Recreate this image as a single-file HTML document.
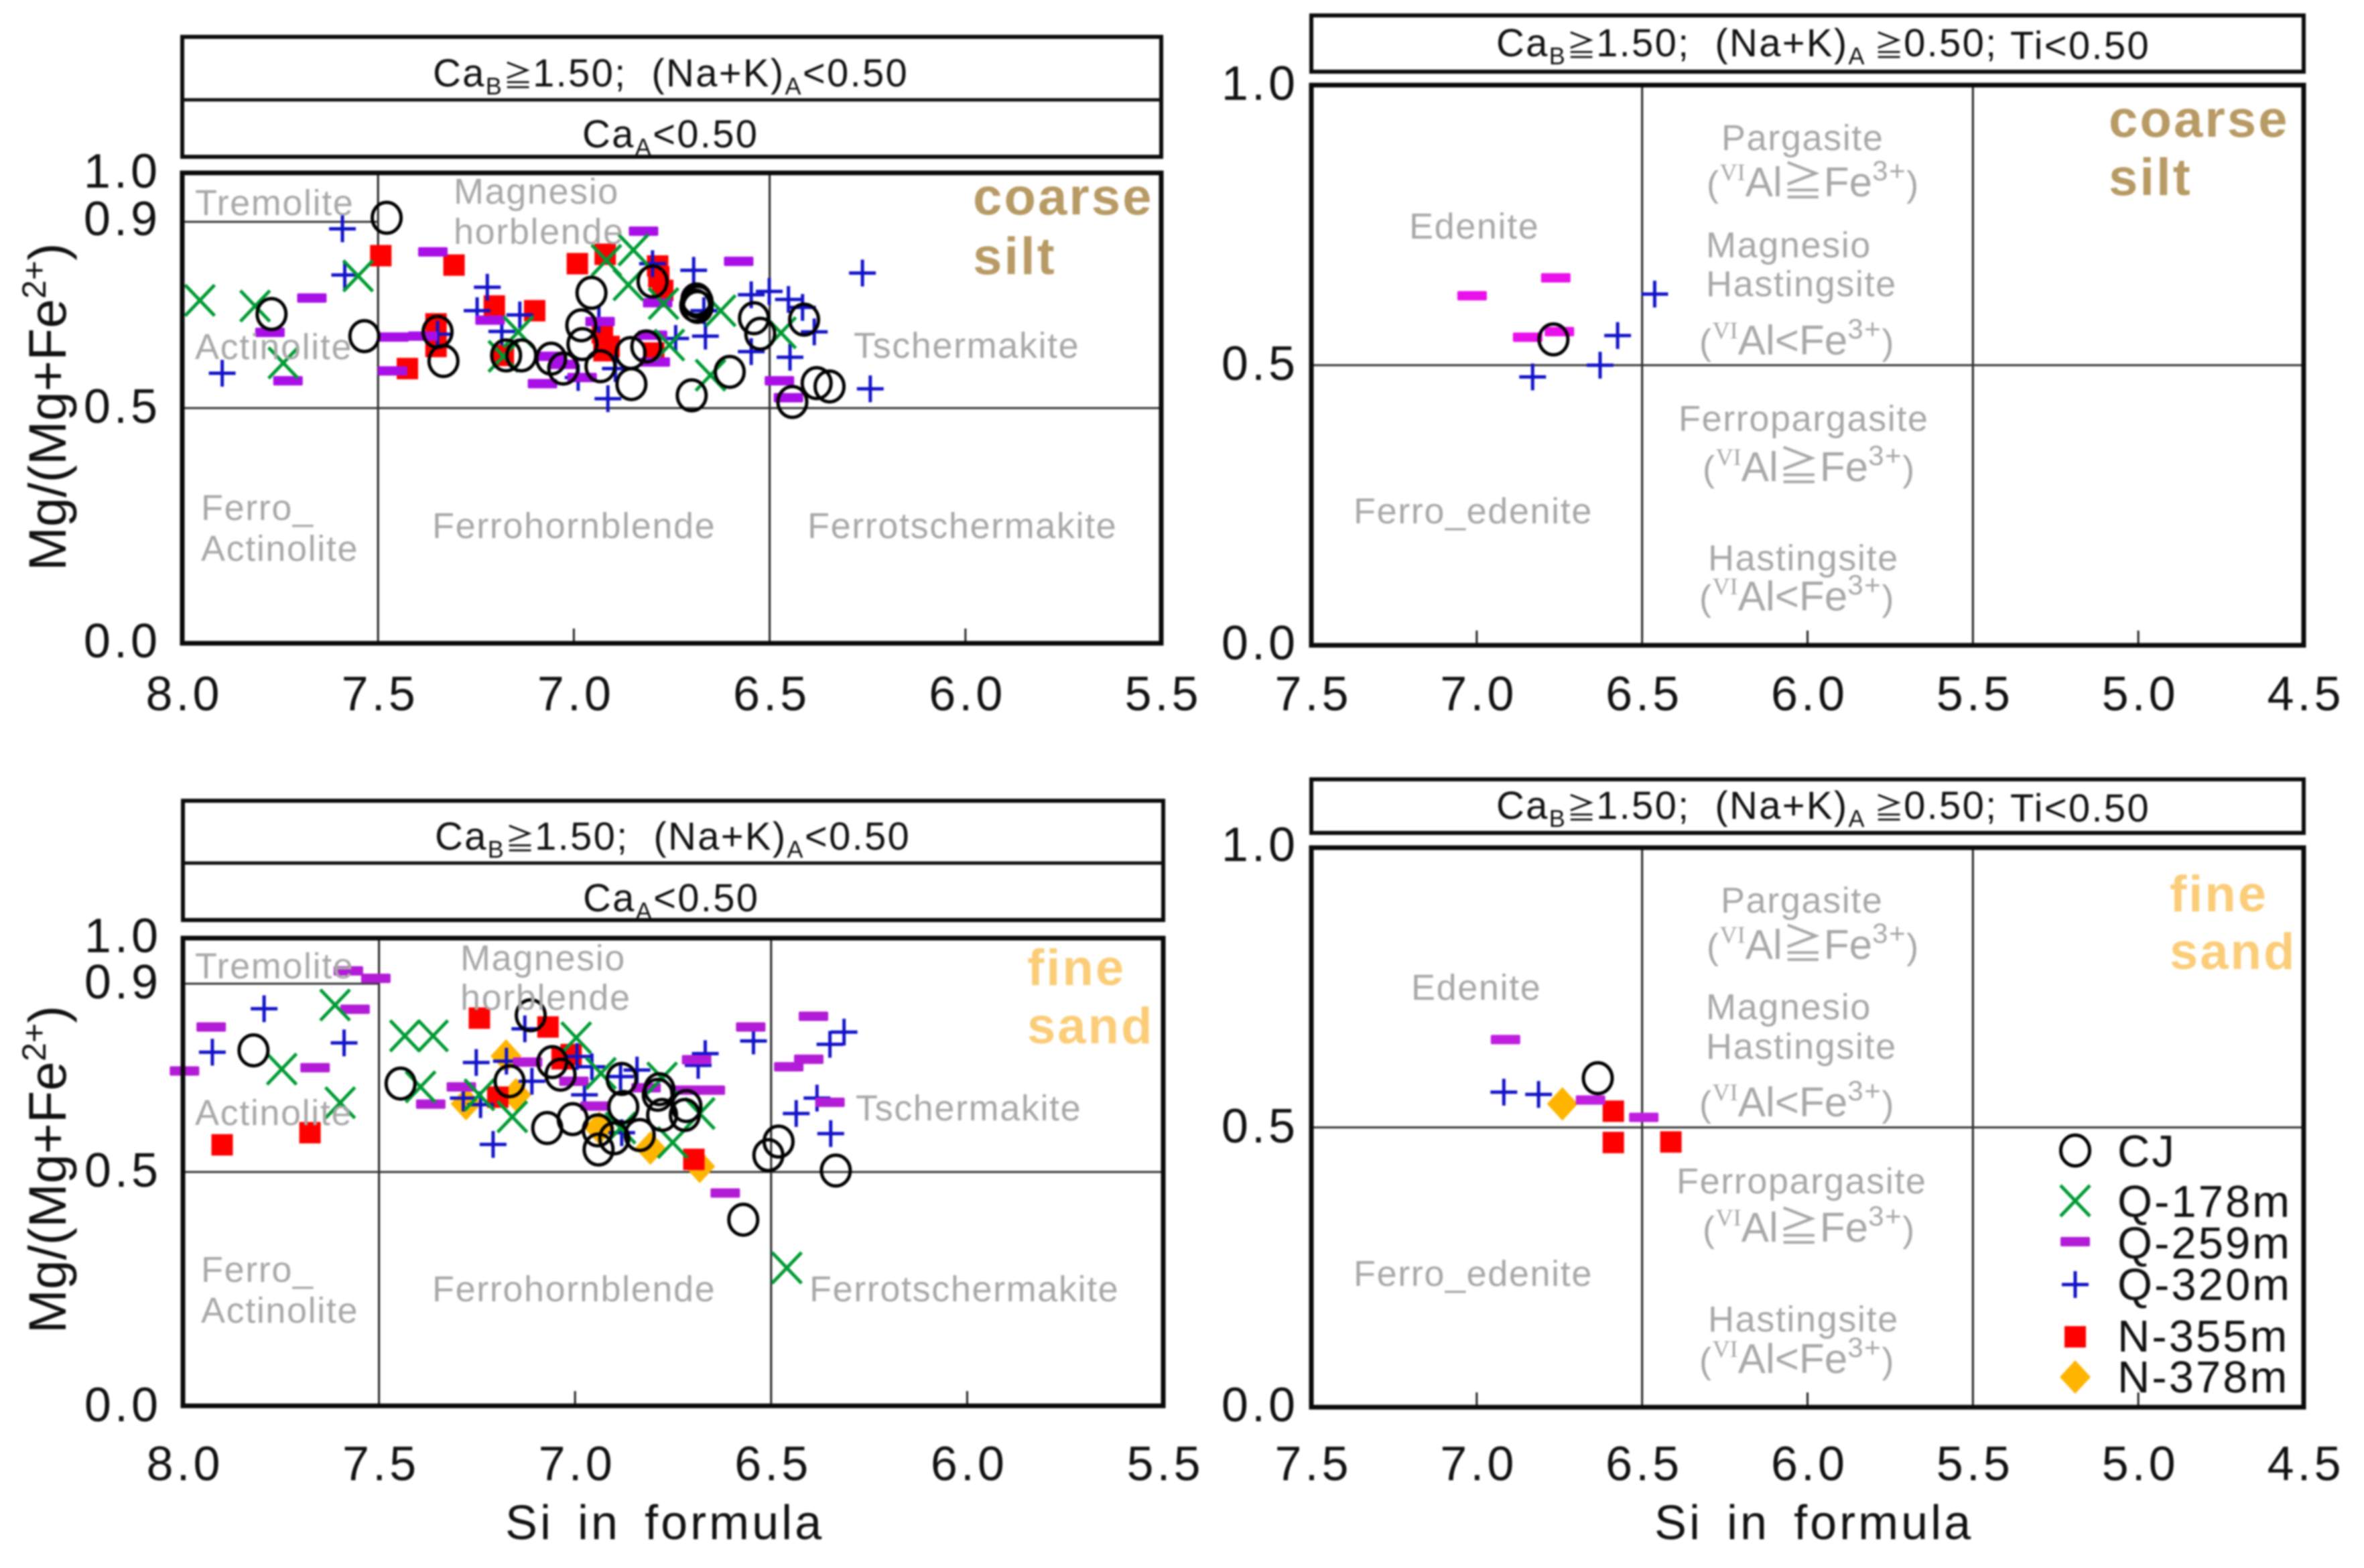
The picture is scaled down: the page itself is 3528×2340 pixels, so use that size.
<!DOCTYPE html>
<html>
<head>
<meta charset="utf-8">
<title>Amphibole classification diagrams</title>
<style>
html,body{margin:0;padding:0;background:#fff;width:3528px;height:2340px;overflow:hidden}
svg{display:block;filter:blur(1.2px)}
text{font-family:"Liberation Sans","Noto Sans CJK JP",sans-serif}
.g{font-size:54px;letter-spacing:1.6px;fill:#a8a8a8}
.h{font-size:58px;letter-spacing:2.3px;fill:#111}
.ge{font-size:44px;letter-spacing:0}
.t{font-size:72px;letter-spacing:5px;fill:#111}
.ax{font-size:72px;letter-spacing:4px;word-spacing:12px;fill:#111}
.yt{font-size:79px;fill:#111}
.l{font-size:67px;letter-spacing:3px;fill:#111}
.cs{font-size:78px;font-weight:bold;letter-spacing:3px;fill:#b89a64}
.fs{font-size:76px;font-weight:bold;letter-spacing:3px;fill:#fbcd78}
.vi{font-family:"Liberation Serif",serif;font-size:36px;letter-spacing:0}
.al{font-size:62px;letter-spacing:0}
.sp{font-size:42px}
.box{fill:none;stroke:#0a0a0a;stroke-width:6}
</style>
</head>
<body>
<svg id="c" xmlns="http://www.w3.org/2000/svg" width="3528" height="2340" viewBox="0 0 3528 2340">
<rect width="3528" height="2340" fill="#fff"/>

<!-- headers -->
<rect class="box" x="272" y="55" width="1461" height="179"/>
<line x1="272" x2="1733" y1="149" y2="149" stroke="#111" stroke-width="5"/>
<text class="h" x="646" y="129">Ca<tspan font-size="36" dy="12">B</tspan><tspan class="ge" dy="-12">≧</tspan>1.50;&#160;&#160;(Na+K)<tspan font-size="36" dy="12">A</tspan><tspan dy="-12">&lt;0.50</tspan></text>
<text class="h" x="869" y="220">Ca<tspan font-size="36" dy="12">A</tspan><tspan dy="-12">&lt;0.50</tspan></text>

<rect class="box" x="273" y="1195" width="1463" height="178"/>
<line x1="273" x2="1736" y1="1288" y2="1288" stroke="#111" stroke-width="5"/>
<text class="h" x="649" y="1268">Ca<tspan font-size="36" dy="12">B</tspan><tspan class="ge" dy="-12">≧</tspan>1.50;&#160;&#160;(Na+K)<tspan font-size="36" dy="12">A</tspan><tspan dy="-12">&lt;0.50</tspan></text>
<text class="h" x="870" y="1360">Ca<tspan font-size="36" dy="12">A</tspan><tspan dy="-12">&lt;0.50</tspan></text>

<rect class="box" x="1957" y="23" width="1481" height="84"/>
<text class="h" x="2233" y="84">Ca<tspan font-size="36" dy="12">B</tspan><tspan class="ge" dy="-12">≧</tspan>1.50;&#160;&#160;(Na+K)<tspan font-size="36" dy="12">A</tspan><tspan class="ge" dy="-12">&#160;≧</tspan>0.50;<tspan dy="4">&#160;Ti&lt;0.50</tspan></text>

<rect class="box" x="1957" y="1163" width="1481" height="80"/>
<text class="h" x="2233" y="1222">Ca<tspan font-size="36" dy="12">B</tspan><tspan class="ge" dy="-12">≧</tspan>1.50;&#160;&#160;(Na+K)<tspan font-size="36" dy="12">A</tspan><tspan class="ge" dy="-12">&#160;≧</tspan>0.50;<tspan dy="4">&#160;Ti&lt;0.50</tspan></text>

<g id="plots"></g>

<!-- region labels: panel A -->
<g>
<text class="g" x="291" y="321">Tremolite</text>
<text class="g" x="677" y="304">Magnesio</text>
<text class="g" x="677" y="364">horblende</text>
<text class="g" x="291" y="536">Actinolite</text>
<text class="g" x="1274" y="534">Tschermakite</text>
<text class="g" x="300" y="776">Ferro_</text>
<text class="g" x="300" y="837">Actinolite</text>
<text class="g" x="645" y="803">Ferrohornblende</text>
<text class="g" x="1205" y="803">Ferrotschermakite</text>
<text class="cs" x="1452" y="320">coarse</text>
<text class="cs" x="1452" y="409">silt</text>
</g>
<!-- panel B -->
<g>
<text class="g" x="291" y="1460">Tremolite</text>
<text class="g" x="687" y="1448">Magnesio</text>
<text class="g" x="687" y="1507">horblende</text>
<text class="g" x="291" y="1679">Actinolite</text>
<text class="g" x="1277" y="1672">Tschermakite</text>
<text class="g" x="300" y="1913">Ferro_</text>
<text class="g" x="300" y="1974">Actinolite</text>
<text class="g" x="645" y="1942">Ferrohornblende</text>
<text class="g" x="1208" y="1942">Ferrotschermakite</text>
<text class="fs" x="1533" y="1470">fine</text>
<text class="fs" x="1533" y="1557">sand</text>
</g>
<!-- panel C -->
<g>
<text class="g" x="2103" y="356">Edenite</text>
<text class="g" x="2569" y="224">Pargasite</text>
<text class="g" x="2547" y="293">(<tspan class="vi" dy="-24">VI</tspan><tspan class="al" dy="24">Al≧Fe</tspan><tspan class="sp" dy="-24">3+</tspan><tspan dy="24">)</tspan></text>
<text class="g" x="2546" y="384">Magnesio</text>
<text class="g" x="2546" y="442">Hastingsite</text>
<text class="g" x="2536" y="529">(<tspan class="vi" dy="-24">VI</tspan><tspan class="al" dy="24">Al&lt;Fe</tspan><tspan class="sp" dy="-24">3+</tspan><tspan dy="24">)</tspan></text>
<text class="g" x="2505" y="643">Ferropargasite</text>
<text class="g" x="2541" y="718">(<tspan class="vi" dy="-24">VI</tspan><tspan class="al" dy="24">Al≧Fe</tspan><tspan class="sp" dy="-24">3+</tspan><tspan dy="24">)</tspan></text>
<text class="g" x="2020" y="781">Ferro_edenite</text>
<text class="g" x="2549" y="851">Hastingsite</text>
<text class="g" x="2536" y="911">(<tspan class="vi" dy="-24">VI</tspan><tspan class="al" dy="24">Al&lt;Fe</tspan><tspan class="sp" dy="-24">3+</tspan><tspan dy="24">)</tspan></text>
<text class="cs" x="3147" y="204">coarse</text>
<text class="cs" x="3147" y="291">silt</text>
</g>
<!-- panel D -->
<g>
<text class="g" x="2106" y="1492">Edenite</text>
<text class="g" x="2568" y="1362">Pargasite</text>
<text class="g" x="2547" y="1431">(<tspan class="vi" dy="-24">VI</tspan><tspan class="al" dy="24">Al≧Fe</tspan><tspan class="sp" dy="-24">3+</tspan><tspan dy="24">)</tspan></text>
<text class="g" x="2546" y="1521">Magnesio</text>
<text class="g" x="2546" y="1580">Hastingsite</text>
<text class="g" x="2536" y="1666">(<tspan class="vi" dy="-24">VI</tspan><tspan class="al" dy="24">Al&lt;Fe</tspan><tspan class="sp" dy="-24">3+</tspan><tspan dy="24">)</tspan></text>
<text class="g" x="2502" y="1781">Ferropargasite</text>
<text class="g" x="2541" y="1853">(<tspan class="vi" dy="-24">VI</tspan><tspan class="al" dy="24">Al≧Fe</tspan><tspan class="sp" dy="-24">3+</tspan><tspan dy="24">)</tspan></text>
<text class="g" x="2020" y="1919">Ferro_edenite</text>
<text class="g" x="2549" y="1987">Hastingsite</text>
<text class="g" x="2536" y="2049">(<tspan class="vi" dy="-24">VI</tspan><tspan class="al" dy="24">Al&lt;Fe</tspan><tspan class="sp" dy="-24">3+</tspan><tspan dy="24">)</tspan></text>
<text class="fs" x="3238" y="1360">fine</text>
<text class="fs" x="3238" y="1446">sand</text>
</g>

<!-- axis titles -->
<text class="yt" transform="translate(98,852) rotate(-90)">Mg/(Mg+Fe<tspan font-size="50" dy="-30">2+</tspan><tspan dy="30">)</tspan></text>
<text class="yt" transform="translate(98,1990) rotate(-90)">Mg/(Mg+Fe<tspan font-size="50" dy="-30">2+</tspan><tspan dy="30">)</tspan></text>
<text class="ax" x="754" y="2297">Si in formula</text>
<text class="ax" x="2469" y="2297">Si in formula</text>

<!-- legend text -->
<g>
<text class="l" x="3160" y="1741">CJ</text>
<text class="l" x="3160" y="1816">Q-178m</text>
<text class="l" x="3160" y="1878">Q-259m</text>
<text class="l" x="3160" y="1940">Q-320m</text>
<text class="l" x="3160" y="2017">N-355m</text>
<text class="l" x="3160" y="2078">N-378m</text>
</g>
<g id="legendMarks"></g>
</svg>

<script>
// ---- data: [Si, Mg/(Mg+Fe2+)] ----
const coarseLow_CJ=[[7.478,.9045],[7.772,.700],[7.535,.653],[7.348,.662],[7.333,.600],[7.173,.612],[7.134,.612],[7.058,.605],[7.027,.584],[6.981,.676],[6.978,.636],[6.955,.745],[6.932,.589],[6.855,.617],[6.853,.551],[6.815,.631],[6.799,.769],[6.687,.731],[6.684,.726],[6.690,.718],[6.684,.715],[6.540,.691],[6.524,.658],[6.412,.688],[6.602,.577],[6.699,.527],[6.442,.513],[6.380,.553],[6.347,.546]];
const coarseLow_Q178=[[7.955,.729],[7.814,.717],[7.742,.596],[7.551,.781],[7.142,.662],[7.180,.610],[6.917,.814],[6.848,.836],[6.861,.762],[6.771,.722],[6.625,.707],[6.471,.660],[6.651,.570],[6.756,.634]];
const coarseLow_Q259=[[7.776,.661],[7.669,.734],[7.730,.558],[7.360,.832],[7.459,.651],[7.386,.653],[7.463,.579],[7.214,.687],[7.080,.552],[7.060,.610],[7.025,.593],[6.979,.565],[6.933,.684],[6.799,.655],[6.792,.598],[6.786,.724],[6.822,.876],[6.579,.812],[6.475,.558],[6.452,.522]];
const coarseLow_Q320=[[7.591,.881],[7.585,.783],[7.898,.574],[7.221,.757],[7.247,.707],[7.138,.698],[7.184,.663],[7.348,.657],[6.936,.688],[6.913,.520],[6.799,.807],[6.694,.793],[6.664,.653],[6.668,.707],[6.740,.648],[6.547,.741],[6.501,.748],[6.452,.731],[6.416,.714],[6.386,.662],[6.547,.620],[6.448,.608],[6.263,.787],[6.243,.541],[6.894,.584],[6.989,.565]];
const coarseLow_N355=[[7.493,.824],[7.306,.804],[7.203,.717],[7.100,.707],[7.352,.679],[7.352,.631],[7.425,.584],[7.180,.612],[6.991,.807],[6.920,.827],[6.927,.660],[6.910,.631],[6.923,.622],[6.786,.802],[6.783,.779],[6.773,.750],[6.796,.617]];
const coarseLow_N378=[];

const fineLow_CJ=[[7.820,.760],[7.445,.689],[7.113,.835],[7.167,.694],[7.058,.735],[7.037,.708],[7.071,.594],[7.006,.613],[6.942,.589],[6.940,.548],[6.900,.572],[6.877,.639],[6.881,.699],[6.835,.579],[6.789,.665],[6.785,.677],[6.778,.622],[6.716,.641],[6.720,.622],[6.571,.398],[6.507,.536],[6.481,.565],[6.335,.503]];
const fineLow_Q178=[[7.612,.857],[7.434,.791],[7.362,.791],[7.748,.720],[7.394,.682],[7.599,.648],[7.244,.665],[7.160,.618],[6.997,.787],[6.934,.711],[6.884,.594],[6.778,.701],[6.682,.625],[6.751,.563],[6.460,.295]];
const fineLow_Q259=[[7.996,.716],[7.928,.810],[7.578,.930],[7.508,.914],[7.561,.848],[7.663,.723],[7.368,.645],[7.290,.682],[7.121,.735],[7.003,.694],[6.949,.641],[6.819,.680],[6.720,.675],[6.655,.675],[6.690,.740],[6.552,.810],[6.617,.455],[6.455,.725],[6.404,.741],[6.392,.833],[6.350,.649]];
const fineLow_Q320=[[7.793,.849],[7.925,.756],[7.589,.776],[7.252,.734],[7.175,.737],[7.285,.658],[7.241,.644],[7.110,.694],[7.209,.559],[7.128,.806],[6.995,.747],[6.957,.725],[6.976,.665],[6.884,.704],[6.842,.718],[6.881,.584],[6.668,.753],[6.686,.728],[6.545,.780],[6.436,.625],[6.383,.658],[6.348,.582],[6.350,.773],[6.314,.799]];
const fineLow_N355=[[7.900,.558],[7.676,.584],[7.244,.829],[7.069,.810],[7.197,.660],[7.033,.742],[7.010,.751],[6.697,.527]];
const fineLow_N378=[[7.176,.748],[7.278,.646],[7.151,.665],[6.938,.594],[6.808,.551],[6.682,.512]];

const coarseHigh_CJ=[[6.768,.546]];
const coarseHigh_Q178=[];
const coarseHigh_Q259=[[7.014,.624],[6.761,.656],[6.846,.550],[6.750,.560]];
const coarseHigh_Q320=[[6.462,.627],[6.574,.553],[6.627,.500],[6.831,.479]];
const coarseHigh_N355=[];
const coarseHigh_N378=[];

const fineHigh_CJ=[[6.634,.588]];
const fineHigh_Q178=[];
const fineHigh_Q259=[[6.913,.657],[6.656,.549],[6.495,.518]];
const fineHigh_Q320=[[6.918,.563],[6.813,.559]];
const fineHigh_N355=[[6.587,.529],[6.587,.473],[6.413,.474]];
const fineHigh_N378=[[6.741,.542]];

const xTicksLow=["8.0","7.5","7.0","6.5","6.0","5.5"];
const xTicksHigh=["7.5","7.0","6.5","6.0","5.5","5.0","4.5"];
const yTicksLow=["1.0","0.9","0.5","0.0"];
const yTicksHigh=["1.0","0.5","0.0"];

const NS="http://www.w3.org/2000/svg";
const plots=document.getElementById('plots');
function el(tag,parent,attrs){
  const e=document.createElementNS(NS,tag);
  for(const k in attrs) e.setAttribute(k,attrs[k]);
  parent.appendChild(e);
  return e;
}
function drawMarker(kind,parent,px,py,dashColor){
  let m;
  if(kind==='cj'){
    m=el('ellipse',parent,{cx:px,cy:py,rx:21.5,ry:23,fill:'none',stroke:'#000','stroke-width':5});
  }else if(kind==='q178'){
    m=el('path',parent,{d:`M${px-22} ${py-23}L${px+22} ${py+23}M${px-22} ${py+23}L${px+22} ${py-23}`,fill:'none',stroke:'#009a33','stroke-width':5});
  }else if(kind==='q259'){
    m=el('rect',parent,{x:px-22,y:py-7,width:44,height:14,rx:2,fill:dashColor});
  }else if(kind==='q320'){
    m=el('path',parent,{d:`M${px-20} ${py}H${px+20}M${px} ${py-20}V${py+20}`,fill:'none',stroke:'#1212c8','stroke-width':5});
  }else if(kind==='n355'){
    m=el('rect',parent,{x:px-16,y:py-16,width:32,height:32,fill:'#ff0000'});
  }else{
    m=el('path',parent,{d:`M${px} ${py-25}L${px+23} ${py}L${px} ${py+25}L${px-23} ${py}Z`,fill:'#ffb400'});
  }
  return m;
}
function drawPanel(cfg){
  const g=el('g',plots,{});
  
  
  const x=v=>cfg.left+(cfg.xMax-v)/(cfg.xMax-cfg.xMin)*(cfg.right-cfg.left);
  const y=v=>cfg.bottom-v*(cfg.bottom-cfg.top);

  // guides
  cfg.vGuides.forEach(v=>{
    const l=el('line',g,{x1:x(v),x2:x(v),y1:cfg.top,y2:cfg.bottom,stroke:'#222','stroke-width':3});
    
    
  });
  const h5=el('line',g,{x1:cfg.left,x2:cfg.right,y1:y(.5),y2:y(.5),stroke:'#333','stroke-width':3});
  
  
  if(cfg.tremolite){
    const h9=el('line',g,{x1:cfg.left,x2:x(7.5),y1:y(cfg.tremolite),y2:y(cfg.tremolite),stroke:'#333','stroke-width':3});
    
    
  }
  // minor ticks
  cfg.minor.forEach(v=>{
    const t=el('line',g,{x1:x(v),x2:x(v),y1:cfg.bottom-22,y2:cfg.bottom,stroke:'#222','stroke-width':3});
    
    
  });
  // series
  cfg.series.forEach(s=>{
    const sg=el('g',g,{});
    
    
    s.values.forEach(p=>{
      const m=drawMarker(s.kind,sg,x(p[0]),y(p[1]),cfg.dash);
      
      
    });
  });
  // frame
  const f=el('rect',g,{x:cfg.left,y:cfg.top,width:cfg.right-cfg.left,height:cfg.bottom-cfg.top,fill:'none',stroke:'#0a0a0a','stroke-width':7});
  
  
  // tick labels
  cfg.xTicks.forEach(lab=>{
    const t=el('text',g,{x:x(parseFloat(lab))+3,y:cfg.xLabelY,'text-anchor':'middle',class:'t'});
    t.textContent=lab;
    
    
  });
  cfg.yTicks.forEach((lab,i)=>{
    const t=el('text',g,{x:cfg.left-cfg.yLabelGap,y:cfg.yLabelYs[i],'text-anchor':'end',class:'t'});
    t.textContent=lab;
    
    
  });
}
const seriesOf=(cj,q178,q259,q320,n355,n378)=>[
  {kind:'n378',values:n378},{kind:'n355',values:n355},{kind:'q320',values:q320},
  {kind:'q259',values:q259},{kind:'q178',values:q178},{kind:'cj',values:cj}];

drawPanel({name:'coarse-low',left:272,right:1733,top:258,bottom:960,xMax:8,xMin:5.5,vGuides:[7.5,6.5],minor:[7,6],tremolite:.896,dash:'#a80fe6',
  xTicks:xTicksLow,yTicks:yTicksLow,xLabelY:1060,yLabelYs:[280,351,631,981],yLabelGap:32,
  series:seriesOf(coarseLow_CJ,coarseLow_Q178,coarseLow_Q259,coarseLow_Q320,coarseLow_N355,coarseLow_N378)});
drawPanel({name:'fine-low',left:273,right:1736,top:1400,bottom:2098,xMax:8,xMin:5.5,vGuides:[7.5,6.5],minor:[7,6],tremolite:.9026,dash:'#b21cd6',
  xTicks:xTicksLow,yTicks:yTicksLow,xLabelY:2209,yLabelYs:[1421,1490,1771,2121],yLabelGap:32,
  series:seriesOf(fineLow_CJ,fineLow_Q178,fineLow_Q259,fineLow_Q320,fineLow_N355,fineLow_N378)});
drawPanel({name:'coarse-high',left:1957,right:3438,top:127,bottom:963,xMax:7.5,xMin:4.5,vGuides:[6.5,5.5],minor:[7,6,5],dash:'#ea10ea',
  xTicks:xTicksHigh,yTicks:yTicksHigh,xLabelY:1060,yLabelYs:[149,567,984],yLabelGap:19,
  series:seriesOf(coarseHigh_CJ,coarseHigh_Q178,coarseHigh_Q259,coarseHigh_Q320,coarseHigh_N355,coarseHigh_N378)});
drawPanel({name:'fine-high',left:1957,right:3438,top:1265,bottom:2100,xMax:7.5,xMin:4.5,vGuides:[6.5,5.5],minor:[7,6,5],dash:'#c01fe0',
  xTicks:xTicksHigh,yTicks:yTicksHigh,xLabelY:2209,yLabelYs:[1285,1705,2121],yLabelGap:19,
  series:seriesOf(fineHigh_CJ,fineHigh_Q178,fineHigh_Q259,fineHigh_Q320,fineHigh_N355,fineHigh_N378)});

// legend markers
const legendKinds=['cj','q178','q259','q320','n355','n378'];
const legendRows=[1717,1792,1853,1917,1995,2055];
const lm=document.getElementById('legendMarks');
legendKinds.forEach((k,i)=>{
  const m=drawMarker(k,lm,3097,legendRows[i],'#b21cd6');
  
  
});
</script>
</body>
</html>
